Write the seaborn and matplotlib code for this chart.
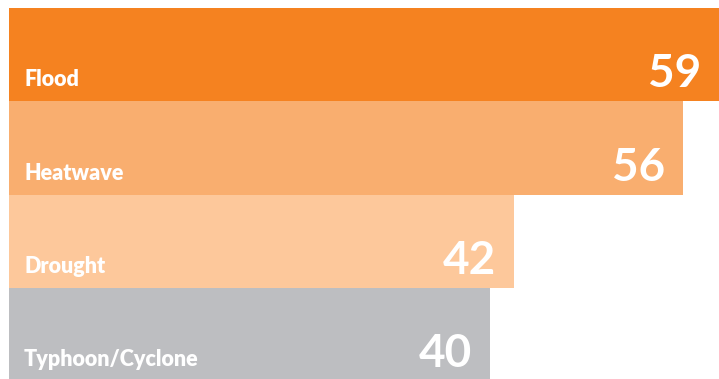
import matplotlib
matplotlib.use("Agg")
import matplotlib.pyplot as plt
import seaborn as sns
import pandas as pd

categories = ["Flood", "Heatwave", "Drought", "Typhoon/Cyclone"]
values = [59, 56, 42, 40]
colors = ["#F58220", "#F9AE6F", "#FDC89B", "#BDBEC1"]

sns.set_style("white")
plt.rcParams["font.family"] = ["Lato", "DejaVu Sans"]

df = pd.DataFrame({"category": categories, "value": values})

fig = plt.figure(figsize=(7.19, 3.79), dpi=100)
ax = fig.add_axes([9 / 719, -2.3 / 379, 710 / 719, 373.3 / 379])
sns.barplot(data=df, x="value", y="category", hue="category", palette=colors,
            orient="h", width=1.0, legend=False, ax=ax, saturation=1,
            linewidth=0, edgecolor="none")
ax.set_xlim(0, max(values))
ax.set_ylim(len(categories) - 0.5, -0.5)
ax.axis("off")

for i, (c, v) in enumerate(zip(categories, values)):
    ax.annotate(c, xy=(0, i + 0.5), xytext=(15, 15), textcoords="offset pixels",
                ha="left", va="baseline", color="white", fontsize=15.5, fontweight="heavy")
    ax.annotate(str(v), xy=(v, i + 0.5), xytext=(-18, 14), textcoords="offset pixels",
                ha="right", va="baseline", color="white", fontsize=33, fontweight="bold")

fig.savefig("out.png", dpi=100)
